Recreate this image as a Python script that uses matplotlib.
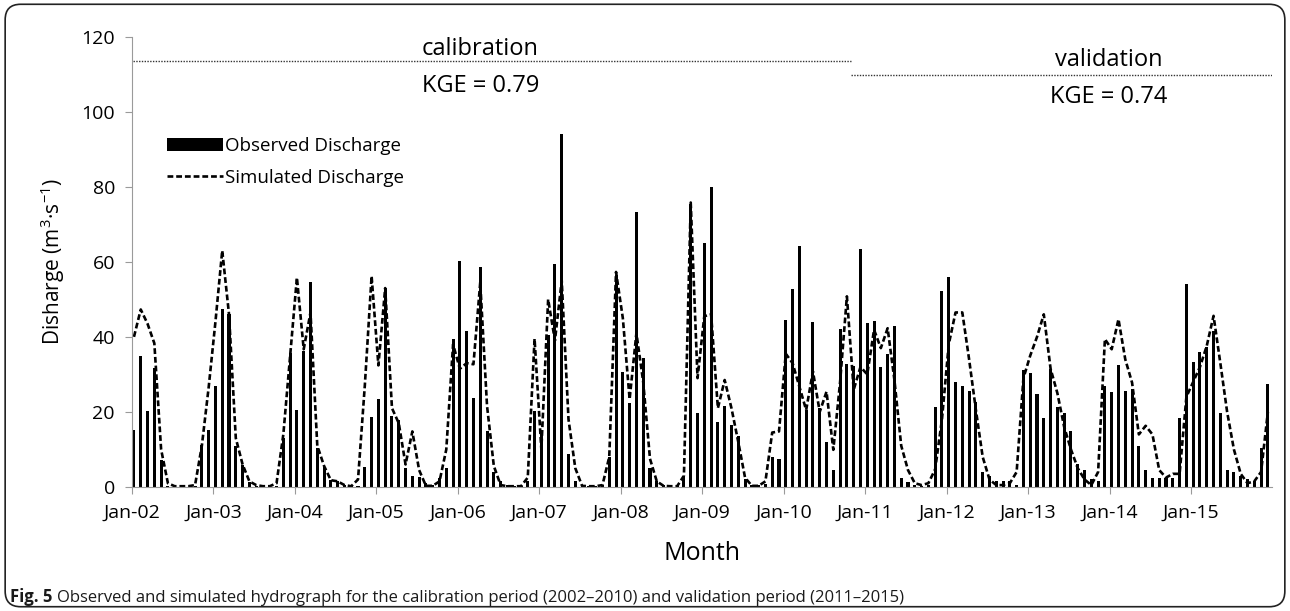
import numpy as np
import matplotlib.pyplot as plt
from matplotlib.patches import FancyBboxPatch

plt.rcParams["font.family"] = ["Open Sans", "DejaVu Sans"]
plt.rcParams["mathtext.default"] = "regular"

# Monthly discharge, Jan-2002 .. Dec-2015 (m3/s)
observed = [
    15.2, 35.0, 20.2, 31.7, 7.2, 0.2, 0.0, 0.0, 0.0, 0.3, 11.2, 15.2,      # 2002
    26.9, 47.4, 46.2, 11.0, 5.8, 1.2, 0.3, 0.0, 0.0, 0.3, 13.0, 35.6,      # 2003
    20.5, 36.3, 54.7, 10.5, 5.2, 1.8, 1.5, 0.5, 0.3, 0.3, 5.4, 18.7,       # 2004
    23.5, 53.0, 19.0, 17.8, 5.0, 2.8, 2.7, 1.0, 0.5, 2.5, 5.0, 39.4,       # 2005
    60.3, 41.6, 23.8, 58.5, 15.0, 4.0, 1.5, 0.5, 0.3, 0.3, 1.5, 20.3,      # 2006
    14.5, 40.5, 59.3, 94.0, 8.7, 1.5, 0.3, 0.3, 0.3, 0.5, 8.0, 56.5,       # 2007
    30.7, 22.3, 73.2, 34.5, 5.0, 1.5, 0.5, 0.5, 0.5, 3.0, 75.5, 19.8,      # 2008
    65.0, 80.0, 17.3, 21.6, 16.4, 13.6, 2.0, 0.5, 0.5, 0.8, 8.1, 7.5,      # 2009
    44.4, 52.8, 64.2, 20.5, 43.9, 21.0, 11.9, 4.5, 42.1, 32.8, 32.2, 63.3, # 2010
    43.7, 44.3, 32.1, 35.5, 42.8, 2.3, 1.4, 0.5, 0.3, 0.5, 21.2, 52.3,     # 2011
    56.0, 28.0, 26.8, 25.6, 22.7, 4.0, 3.0, 1.5, 1.5, 1.5, 0.5, 31.2,      # 2012
    30.5, 24.7, 18.5, 31.4, 21.2, 19.8, 15.0, 6.0, 4.5, 2.0, 1.5, 27.0,    # 2013
    25.3, 32.5, 25.6, 26.2, 11.0, 4.5, 2.3, 2.3, 2.5, 2.5, 18.5, 54.0,     # 2014
    33.2, 36.0, 37.2, 41.6, 19.8, 4.5, 4.0, 3.0, 2.0, 1.5, 10.5, 27.4,     # 2015
]
simulated = [
    40.0, 47.3, 43.5, 38.3, 10.0, 1.0, 0.2, 0.2, 0.2, 0.5, 11.0, 26.5,
    44.0, 63.0, 46.0, 13.0, 6.0, 1.5, 0.5, 0.2, 0.2, 1.0, 14.0, 35.0,
    55.8, 36.7, 46.5, 11.0, 5.6, 1.8, 1.5, 0.5, 0.2, 2.0, 27.0, 56.2,
    32.4, 53.0, 21.0, 17.0, 6.0, 14.8, 4.5, 0.3, 0.3, 1.5, 10.0, 38.0,
    31.5, 33.0, 32.7, 54.5, 21.6, 5.6, 0.5, 0.2, 0.2, 0.2, 2.5, 39.5,
    10.0, 50.0, 39.0, 55.0, 18.0, 5.0, 0.3, 0.2, 0.2, 0.5, 8.0, 57.3,
    45.0, 23.4, 41.0, 28.0, 7.5, 1.5, 0.3, 0.2, 0.2, 3.0, 75.8, 29.0,
    45.5, 46.0, 21.0, 28.5, 21.0, 12.0, 2.5, 0.3, 0.3, 1.5, 14.5, 14.8,
    35.5, 33.0, 26.8, 20.5, 30.8, 20.0, 25.4, 9.9, 28.0, 50.8, 25.9, 32.0,
    30.0, 41.9, 37.0, 42.3, 28.5, 11.0, 4.5, 1.0, 0.5, 1.0, 4.7, 18.0,
    38.0, 46.5, 46.5, 34.0, 20.5, 8.0, 2.0, 0.5, 0.5, 1.0, 4.0, 29.0,
    35.0, 40.0, 46.0, 31.5, 25.0, 16.0, 10.0, 5.0, 2.0, 0.5, 4.0, 39.4,
    36.7, 44.7, 34.0, 27.8, 14.0, 16.3, 14.0, 4.5, 2.5, 3.5, 3.5, 24.0,
    28.0, 32.0, 37.6, 45.6, 33.0, 20.0, 10.0, 3.5, 1.0, 1.5, 4.0, 20.0,
]
years = list(range(2002, 2016))
tick_labels = [f"Jan-{y % 100:02d}" for y in years]

months = np.arange(len(observed))

fig = plt.figure(figsize=(12.9, 6.11), dpi=100)
ax = fig.add_axes([0.102, 0.203, 0.884, 0.737])

bars = ax.bar(months, observed, width=0.45, color="black",
              label="Observed Discharge")
line, = ax.plot(months, simulated, color="black", lw=1.9, dashes=(2.2, 1.1),
                label="Simulated Discharge")

# calibration / validation periods
ax.plot([-0.2, 105.6], [113.6, 113.6], color="#333333", lw=1.0, ls=(0, (1, 1)))
ax.plot([105.6, 167.6], [109.9, 109.9], color="#333333", lw=1.0, ls=(0, (1, 1)))
ax.text(51, 116.8, "calibration", ha="center", va="center", fontsize=17)
ax.text(51, 106.8, "KGE = 0.79", ha="center", va="center", fontsize=17)
ax.text(143.5, 113.8, "validation", ha="center", va="center", fontsize=17)
ax.text(143.5, 103.8, "KGE = 0.74", ha="center", va="center", fontsize=17)

ax.set_xlim(-0.35, 167.6)
ax.set_ylim(0, 120)
ax.set_yticks(range(0, 121, 20))
ax.set_xticks(np.arange(0, len(observed), 12) - 0.3)
ax.set_xticklabels(tick_labels)
ax.tick_params(labelsize=14, color="#9a9a9a", length=5, pad=7)
for side in ["top", "right"]:
    ax.spines[side].set_visible(False)
for side in ["left", "bottom"]:
    ax.spines[side].set_color("#9a9a9a")

ax.set_ylabel("Disharge (m$^{3}$·s$^{-1}$)", fontsize=15, labelpad=10)
ax.set_xlabel("Month", fontsize=18, labelpad=14)

ax.legend(handles=[bars, line], loc="upper left", bbox_to_anchor=(0.016, 0.815),
          frameon=False, fontsize=13.5, handlelength=3.0, handletextpad=0.1,
          labelspacing=0.75)

# rounded frame round the figure
frame = FancyBboxPatch((0.004, 0.007), 0.992, 0.986, transform=fig.transFigure,
                       boxstyle="round,pad=0,rounding_size=0.012",
                       mutation_aspect=1290 / 611, fill=False, lw=1.2,
                       edgecolor="#222222")
fig.patches.append(frame)

# caption
cap = fig.text(0.008, 0.014, "Fig. 5", fontsize=12, fontweight="bold",
               color="#1a1a1a", va="baseline")
fig.canvas.draw()
bb = cap.get_window_extent()
fig.text(bb.x1 / fig.bbox.width + 0.003, 0.014,
         "Observed and simulated hydrograph for the calibration period "
         "(2002–2010) and validation period (2011–2015)",
         fontsize=12, color="#1a1a1a", va="baseline")

fig.savefig("out.png", dpi=100)
